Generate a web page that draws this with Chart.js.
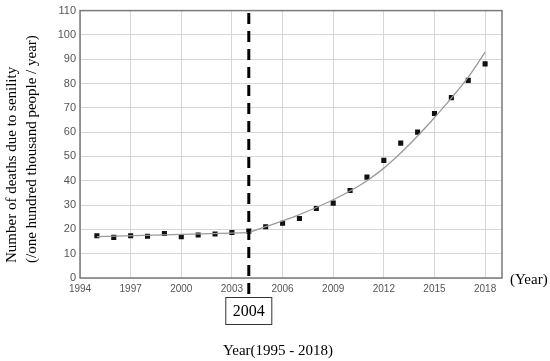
<!DOCTYPE html>
<html lang="en">
<head>
  <meta charset="UTF-8" />
  <title>Deaths due to senility</title>
  <script src="https://cdn.jsdelivr.net/npm/chart.js"></script>
  <style>
    body { margin: 0; background: #fff; }
    #wrap { width: 550px; height: 361px; }
  </style>
</head>
<body>
  <div id="wrap"><canvas id="chart" width="550" height="361"></canvas></div>
  <script>
    const years = [1995, 1996, 1997, 1998, 1999, 2000, 2001, 2002, 2003, 2004, 2005, 2006,
                   2007, 2008, 2009, 2010, 2011, 2012, 2013, 2014, 2015, 2016, 2017, 2018];
    const deaths = [17.4, 16.7, 17.4, 17.2, 18.3, 17.0, 17.7, 18.1, 18.7, 19.3, 21.1, 22.5,
                    24.5, 28.6, 30.8, 36.0, 41.5, 48.4, 55.5, 60.0, 67.7, 74.2, 81.3, 88.1];

    // fitted trend, flat part and rising part
    const flatYears = [1995, 2004];
    const flatFit = [17.0, 18.7];
    const curveYears = [2004, 2005, 2006, 2007, 2008, 2009, 2010, 2011, 2012, 2013, 2014, 2015, 2016, 2017, 2018];
    const curveFit = [18.7, 21.1, 23.5, 26.1, 29.0, 32.2, 35.8, 40.0, 45.2, 51.4, 58.4, 66.0, 74.0, 82.6, 92.9];

    const xTicks = [1994, 1997, 2000, 2003, 2006, 2009, 2012, 2015, 2018];
    const yTicks = [0, 10, 20, 30, 40, 50, 60, 70, 80, 90, 100, 110];
    const breakYear = 2004;

    const toPts = (xs, ys) => xs.map((x, i) => ({ x: x, y: ys[i] }));

    const serif = '"Liberation Serif", "Times New Roman", serif';

    // dashed marker line, frame and the extra texts
    const extras = {
      id: 'extras',
      beforeDatasetsDraw(chart) {
        const { ctx, chartArea: a } = chart;
        ctx.save();
        ctx.strokeStyle = '#7a7a7a';
        ctx.lineWidth = 1.5;
        ctx.strokeRect(a.left, a.top, a.right - a.left, a.bottom - a.top);
        ctx.restore();
      },
      afterDatasetsDraw(chart) {
        const { ctx, scales } = chart;
        const bx = scales.x.getPixelForValue(breakYear);
        ctx.save();
        ctx.strokeStyle = '#000';
        ctx.lineWidth = 3;
        ctx.setLineDash([11, 7]);
        ctx.beginPath();
        ctx.moveTo(bx, 13);
        ctx.lineTo(bx, 297);
        ctx.stroke();
        ctx.setLineDash([]);

        // box with the year
        ctx.lineWidth = 1;
        ctx.strokeStyle = '#333';
        ctx.fillStyle = '#fff';
        ctx.fillRect(bx - 23, 297.5, 46, 27);
        ctx.strokeRect(bx - 23, 297.5, 46, 27);
        ctx.fillStyle = '#000';
        ctx.font = '16px ' + serif;
        ctx.textAlign = 'center';
        ctx.textBaseline = 'middle';
        ctx.fillText(String(breakYear), bx, 311.5);

        ctx.font = '15px ' + serif;
        ctx.fillText('Year(1995 - 2018)', 278, 351);
        ctx.textAlign = 'left';
        ctx.fillText('(Year)', 510, 280);

        // y axis title, two rotated lines aligned at the bottom
        ctx.translate(0, 263);
        ctx.rotate(-Math.PI / 2);
        ctx.textAlign = 'left';
        ctx.fillText('Number of deaths due to senility', 0, 12);
        ctx.fillText('(/one hundred thousand people / year)', 0, 32);
        ctx.restore();
      }
    };

    new Chart(document.getElementById('chart'), {
      type: 'scatter',
      data: {
        datasets: [
          {
            label: 'flat fit',
            data: toPts(flatYears, flatFit),
            showLine: true,
            borderColor: '#9a9a9a',
            borderWidth: 1.3,
            pointRadius: 0
          },
          {
            label: 'curve fit',
            data: toPts(curveYears, curveFit),
            showLine: true,
            tension: 0.4,
            borderColor: '#9a9a9a',
            borderWidth: 1.3,
            pointRadius: 0
          },
          {
            label: 'deaths',
            data: toPts(years, deaths),
            pointStyle: 'rect',
            pointRadius: 3.6,
            backgroundColor: '#111',
            borderColor: '#111',
            borderWidth: 0
          }
        ]
      },
      options: {
        responsive: false,
        animation: false,
        devicePixelRatio: 1,
        layout: { padding: { top: 10, right: 48, left: 0, bottom: 0 } },
        plugins: {
          legend: { display: false },
          tooltip: { enabled: false }
        },
        scales: {
          x: {
            type: 'linear',
            min: 1994,
            max: 2019,
            afterBuildTicks: axis => { axis.ticks = xTicks.map(v => ({ value: v })); },
            afterFit: axis => { axis.height = 83; },
            grid: { color: '#d6d6d6', drawTicks: false },
            border: { display: false },
            ticks: {
              padding: 5,
              maxRotation: 0,
              color: '#555',
              font: { family: '"Liberation Sans Narrow", "Liberation Sans", sans-serif', size: 10 },
              callback: v => String(v)
            }
          },
          y: {
            min: 0,
            max: 110,
            afterBuildTicks: axis => { axis.ticks = yTicks.map(v => ({ value: v })); },
            afterFit: axis => { axis.width = 80; },
            grid: { color: '#d6d6d6', drawTicks: false },
            border: { display: false },
            ticks: {
              padding: 4,
              color: '#555',
              font: { family: '"Liberation Sans Narrow", "Liberation Sans", sans-serif', size: 11 }
            }
          }
        }
      },
      plugins: [extras]
    });
  </script>
</body>
</html>
